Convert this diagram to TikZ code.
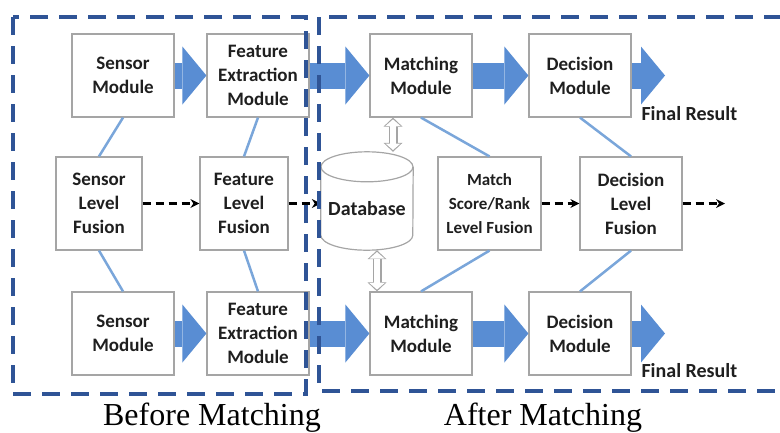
\documentclass[tikz,border=0pt]{standalone}
\usepackage{fontspec}
\setmainfont{Carlito}
\newfontfamily\capfont{Liberation Serif}
\usetikzlibrary{arrows.meta}

\definecolor{frameblue}{RGB}{47,84,150}
\definecolor{arrowblue}{RGB}{89,141,211}
\definecolor{lineblue}{RGB}{122,166,218}
\definecolor{boxgray}{RGB}{165,165,165}

\begin{document}
\begin{tikzpicture}[x=1pt,y=-1pt,
  box/.style={draw=boxgray,line width=1.2pt,fill=white,align=center,text=black!88,
    font=\bfseries\fontsize{19}{24}\selectfont,minimum width=102pt,minimum height=83pt,inner sep=2pt},
  fusion/.style={box,minimum height=93pt},
  cyl/.style={draw=boxgray,line width=1.2pt,fill=white},
  fatarrow/.style={draw=arrowblue,line width=26pt,-{Triangle[width=58pt,length=24pt,line width=0pt]}},
  dasharrow/.style={draw=black,line width=2.2pt,dash pattern=on 8pt off 5pt,-{Stealth[length=9pt,width=9pt,line width=0pt]}},
  link/.style={draw=lineblue,line width=2.5pt},
  hollow/.style={draw=boxgray,line width=9pt,{Triangle[width=19pt,length=9pt,line width=0pt]}-{Triangle[width=19pt,length=9pt,line width=0pt]},
    postaction={draw=white,line width=6pt,shorten >=1.8pt,shorten <=1.8pt,
      {Triangle[width=15pt,length=6.5pt,line width=0pt]}-{Triangle[width=15pt,length=6.5pt,line width=0pt]}}},
  frame/.style={draw=frameblue,line width=4pt,dash pattern=on 18pt off 11pt},
  result/.style={font=\bfseries\fontsize{20}{22}\selectfont,text=black!88},
  caption/.style={font=\capfont\fontsize{32}{36}\selectfont}]

\useasboundingbox (0,0) rectangle (780,432);
\clip (0,0) rectangle (780,432);

% modules
\node[box] (sm1) at (123,75.5) {Sensor\\Module};
\node[box] (fe1) at (258,75.5) {Feature\\Extraction\\Module};
\node[box] (mm1) at (421,75.5) {Matching\\Module};
\node[box] (dm1) at (580,75.5) {Decision\\Module};
\node[box] (sm2) at (123,333.5) {Sensor\\Module};
\node[box] (fe2) at (258,333.5) {Feature\\Extraction\\Module};
\node[box] (mm2) at (421,333.5) {Matching\\Module};
\node[box] (dm2) at (580,333.5) {Decision\\Module};

% fusion levels
\node[fusion,minimum width=86pt] (slf) at (99,203.5) {Sensor\\Level\\Fusion};
\node[fusion,minimum width=88pt] (flf) at (244,203.5) {Feature\\Level\\Fusion};
\node[fusion,minimum width=103pt,font=\bfseries\fontsize{17}{24}\selectfont] (msf) at (489.5,203.5) {Match\\Score/Rank\\Level Fusion};
\node[fusion] (dlf) at (631,203.5) {Decision\\Level\\Fusion};

% database
\node[minimum width=92pt,minimum height=98pt] (db) at (367,201) {};
\filldraw[cyl] ([yshift=-15pt]db.north west) -- ([yshift=15pt]db.south west)
  arc[start angle=180,end angle=0,x radius=46,y radius=15] -- ([yshift=-15pt]db.north east);
\filldraw[cyl] ([yshift=-15pt]db.north) ellipse[x radius=46,y radius=15];
\node[text=black!88,font=\bfseries\fontsize{20}{24}\selectfont] (dbtext) at ([yshift=-8pt]db.center) {Database};

\coordinate (end1) at (665,75.5);
\coordinate (end2) at (665,333.5);
\coordinate (out) at (725,203.5);

\draw[link] (sm1.south) -- (slf.north);
\draw[link] (slf.south) -- (sm2.north);
\draw[link] (fe1.south) -- (flf.north);
\draw[link] (flf.south) -- (fe2.north);
\draw[link] (mm1.south) -- (msf.north);
\draw[link] (msf.south) -- (mm2.north);
\draw[link] (dm1.south) -- (dlf.north);
\draw[link] (dlf.south) -- (dm2.north);

\draw[fatarrow] (sm1) -- (fe1);
\draw[fatarrow] (fe1) -- (mm1);
\draw[fatarrow] (mm1) -- (dm1);
\draw[fatarrow] (dm1) -- (end1);
\draw[fatarrow] (sm2) -- (fe2);
\draw[fatarrow] (fe2) -- (mm2);
\draw[fatarrow] (mm2) -- (dm2);
\draw[fatarrow] (dm2) -- (end2);

\draw[dasharrow] (slf) -- (flf);
\draw[dasharrow] (flf.east) -- (flf.east -| db.west);
\draw[dasharrow] (msf) -- (dlf);
\draw[dasharrow] (dlf) -- (out);

\draw[hollow] ([xshift=-28pt]mm1.south) -- ([xshift=-28pt]mm1.south |- db.north);
\draw[hollow] ([xshift=10pt]db.south) -- ([xshift=10pt]db.south |- mm2.north);

\node[result,anchor=base west] (res1) at (638,120) {Final Result};
\node[result,anchor=base west] (res2) at (638,377) {Final Result};

\draw[frame] (13,17) rectangle (306,394);
\draw[frame] (319,17) rectangle (800,391);

\node[caption,anchor=base] (before) at (212,425) {Before Matching};
\node[caption,anchor=base] (after) at (543,425) {After Matching};
\end{tikzpicture}
\end{document}
